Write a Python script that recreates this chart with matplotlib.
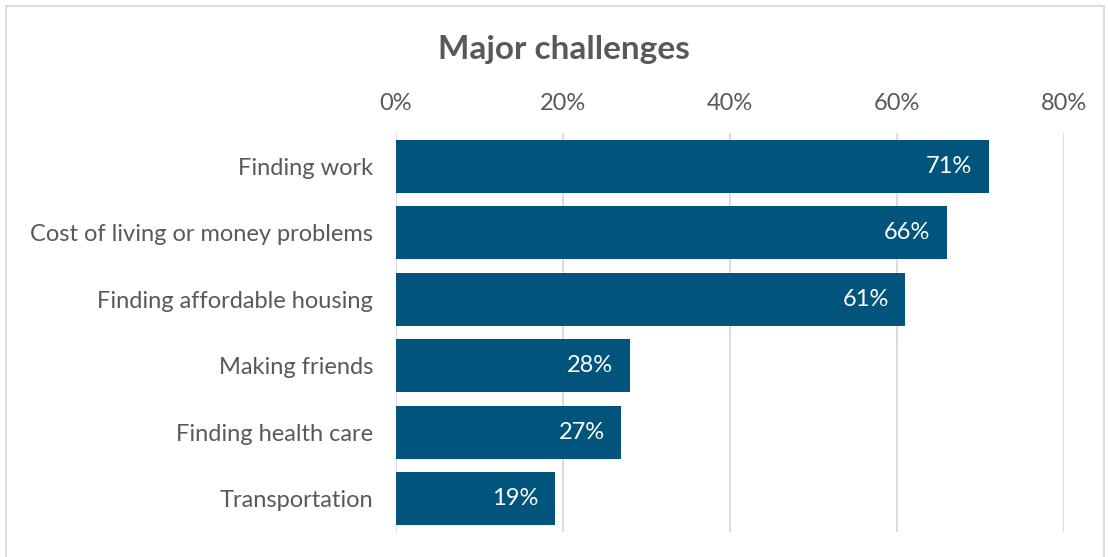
import matplotlib
matplotlib.use("Agg")
import matplotlib.pyplot as plt
from matplotlib.patches import Rectangle

categories = ["Finding work", "Cost of living or money problems", "Finding affordable housing",
              "Making friends", "Finding health care", "Transportation"]
values = [71, 66, 61, 28, 27, 19]
ticks = [0, 20, 40, 60, 80]
tick_labels = ["0%", "20%", "40%", "60%", "80%"]

plt.rcParams['font.family'] = ['Lato', 'DejaVu Sans']
fig = plt.figure(figsize=(11.08, 5.57), dpi=100)
ax = fig.add_axes([396/1108, 1-531.7/557, (1064-396)/1108, (531.7-133.3)/557])

color = "#01547C"
y = list(range(len(categories)))
ax.barh(y, values, height=0.8, color=color, zorder=3)
ax.set_ylim(len(categories)-0.5, -0.5)
ax.set_xlim(0, 80)
ax.set_yticks(y)
ax.set_yticklabels(categories, fontsize=17, color="#595959")
ax.set_xticks(ticks)
ax.set_xticklabels(tick_labels, fontsize=17, color="#595959")
ax.xaxis.tick_top()
ax.tick_params(axis='both', length=0)
ax.tick_params(axis='y', pad=16.5)
ax.tick_params(axis='x', pad=14)
for s in ax.spines.values():
    s.set_visible(False)
ax.grid(axis='x', color="#D9D9D9", linewidth=1.3, zorder=0)
ax.set_axisbelow(True)

for yi, v in zip(y, values):
    ax.text(v - 2.0, yi, f"{v}%", ha='right', va='center', color='white', fontsize=17, zorder=4)

fig.text(563.5/1108, 1-50/557, "Major challenges", ha='center', va='center', fontsize=24,
         fontweight='bold', color="#595959")

fig.patches.append(Rectangle((6/1108, -0.01), (1104-6)/1108, 1.0, transform=fig.transFigure,
                             fill=False, edgecolor="#D9D9D9", linewidth=1.3))
fig.savefig("out.png", dpi=100)
